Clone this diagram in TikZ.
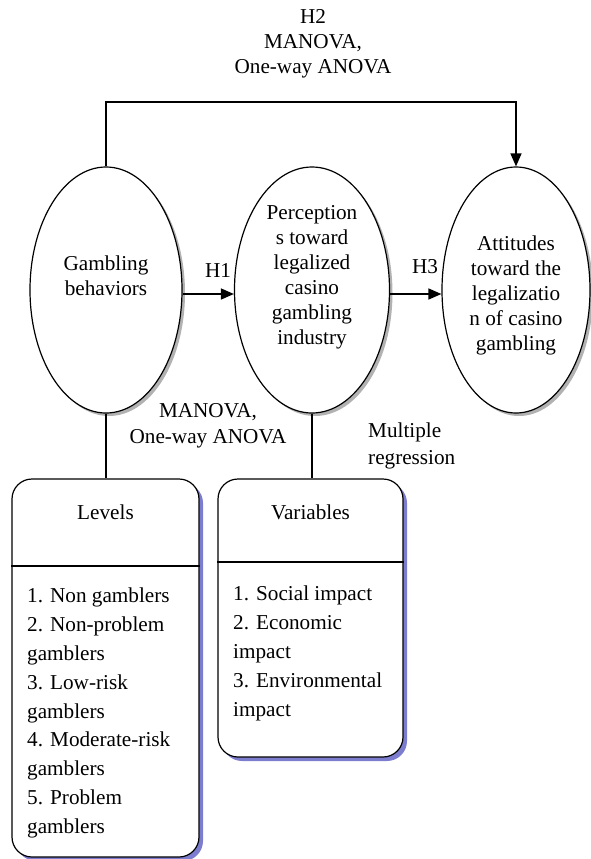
\documentclass[tikz,border=0pt]{standalone}
\usepackage{fontspec}
\setmainfont{Liberation Serif}
\usetikzlibrary{arrows.meta,shadows,shapes.geometric}
\definecolor{shblue}{RGB}{125,125,208}
\definecolor{shgray}{RGB}{178,178,178}
\begin{document}
\begin{tikzpicture}[x=1pt,y=-1pt,
  font=\fontsize{21.2}{25}\selectfont,
  oval/.style={ellipse, draw, line width=1.2pt, fill=white, minimum width=152pt, minimum height=246pt, inner sep=0pt,
    drop shadow={shadow xshift=3pt, shadow yshift=-3pt, fill=shgray, opacity=1}},
  panel/.style={draw, line width=1.2pt, rounded corners=20pt, fill=white, inner sep=0pt,
    drop shadow={shadow xshift=4pt, shadow yshift=-4pt, fill=shblue, opacity=1}},
  arr/.style={line width=1.5pt, -{Triangle[length=13pt,width=11pt]}},
  conn/.style={line width=1.2pt},
  lbl/.style={inner sep=0pt, align=center},
  items/.style={anchor=north west, align=left, inner sep=0pt, font=\fontsize{21.2}{28.8}\selectfont}
]
\path[use as bounding box] (0,0) rectangle (591,859);

% ellipses
\node[oval] (e1) at (106,290) {};
\node[oval, minimum width=155pt] (e2) at (312,290) {};
\node[oval, minimum width=148pt] (e3) at (516,290) {};

\node[lbl] (t1) at (106,276) {Gambling\\behaviors};
\node[lbl] (t2) at (312,277) {Perception\\s toward\\legalized\\casino\\gambling\\industry};
\node[lbl] (t3) at (516,295) {Attitudes\\toward the\\legalizatio\\n of casino\\gambling};

% boxes
\node[panel, minimum width=187pt, minimum height=378pt] (lev) at (105.5,668) {};
\node[panel, minimum width=185pt, minimum height=278pt] (var) at (310.5,618) {};
\coordinate (d1) at (0,566);
\coordinate (d2) at (0,562);
\draw[conn] (lev.west |- d1) -- (lev.east |- d1);
\draw[conn] (var.west |- d2) -- (var.east |- d2);

\node (levh) at (105.5,512) {Levels};
\node (varh) at (310.5,512) {Variables};
\node[items] (levi) at (27,588) {1. Non gamblers\\2. Non-problem\\gamblers\\3. Low-risk\\gamblers\\4. Moderate-risk\\gamblers\\5. Problem\\gamblers};
\node[items] (vari) at (233,586) {1. Social impact\\2. Economic\\impact\\3. Environmental\\impact};

% labels
\node[lbl] (h2) at (313,44) {H2\\MANOVA,\\One-way ANOVA};
\node[lbl] (h1) at (218,270) {H1};
\node[lbl] (h3) at (425,267) {H3};
\node[lbl, font=\fontsize{21.2}{26.5}\selectfont] (m1) at (208,426) {MANOVA,\\One-way ANOVA};
\node[lbl, align=left, anchor=west, font=\fontsize{21.2}{27}\selectfont] (m2) at (368,446) {Multiple\\regression};

% connectors
\coordinate (top) at (0,102);
\draw[arr] (e1.north) -- (e1.north |- top) -| (e3.north);
\draw[arr] ([yshift=-4pt]e1.east) -- ([yshift=-4pt]e2.west);
\draw[arr] ([yshift=-4pt]e2.east) -- ([yshift=-4pt]e3.west);
\draw[conn] (e1.south) -- (e1.south |- lev.north);
\draw[conn] (e2.south) -- (e2.south |- var.north);
\end{tikzpicture}
\end{document}
